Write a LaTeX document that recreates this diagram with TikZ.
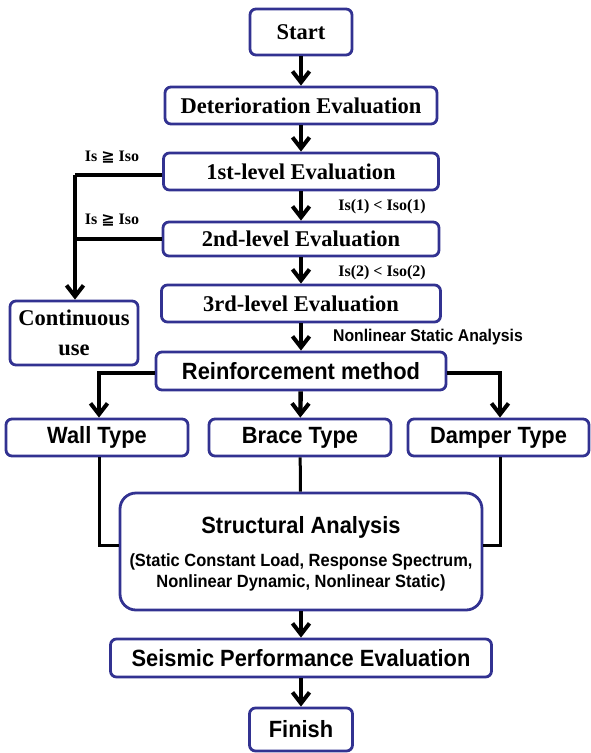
\documentclass[tikz,border=0pt]{standalone}
\usepackage{fontspec}
\setmainfont{Liberation Serif}
\setsansfont{Liberation Sans}[FakeStretch=0.93]
\newfontfamily\djv{DejaVu Sans}
\usetikzlibrary{arrows.meta}
\definecolor{boxblue}{RGB}{50,50,145}
\tikzset{
  box/.style={draw=boxblue, line width=2.8pt, rounded corners=6pt, fill=white, align=center, inner sep=0pt},
  serifbox/.style={box, font=\fontsize{22.5}{25}\selectfont\bfseries},
  sansbox/.style={box, font=\sffamily\fontsize{23.5}{26}\selectfont\bfseries},
  arr/.style={line width=4.4pt, -{Straight Barb[length=11pt,width=17pt,line width=4pt]}},
  conn/.style={line width=4pt},
  thin/.style={line width=3pt},
  lbl/.style={font=\fontsize{16}{18}\selectfont\bfseries, inner sep=0pt},
  slbl/.style={font=\sffamily\fontsize{17}{19}\selectfont\bfseries, inner sep=0pt},
}
\begin{document}
\begin{tikzpicture}[x=1pt,y=-1pt]
\useasboundingbox (0,0) rectangle (590,753);
\node[serifbox, minimum width=102pt, minimum height=46pt] (start) at (301,32) {Start};
\node[serifbox, minimum width=272pt, minimum height=37pt] (det) at (301,105.5) {Deterioration Evaluation};
\node[serifbox, minimum width=275pt, minimum height=37pt] (l1) at (301,171.5) {1st-level Evaluation};
\node[serifbox, minimum width=276pt, minimum height=34pt] (l2) at (301,239) {2nd-level Evaluation};
\node[serifbox, minimum width=279pt, minimum height=37pt] (l3) at (301,303.5) {3rd-level Evaluation};
\node[serifbox, minimum width=128pt, minimum height=64pt, font=\fontsize{22.5}{30}\selectfont\bfseries] (cont) at (74,333) {Continuous\\use};
\node[sansbox, minimum width=290pt, minimum height=38pt] (reinf) at (301,371) {Reinforcement method};
\node[sansbox, minimum width=182pt, minimum height=37pt] (wall) at (97,437.5) {Wall Type};
\node[sansbox, minimum width=182pt, minimum height=37pt] (brace) at (300,437.5) {Brace Type};
\node[sansbox, minimum width=181pt, minimum height=37pt] (damper) at (498.5,437.5) {Damper Type};
\node[box, rounded corners=16pt, minimum width=362pt, minimum height=117pt] (struct) at (301,551.5) {};
\node[font=\sffamily\fontsize{23.5}{26}\selectfont\bfseries, inner sep=0pt] (stitle) at (301,527) {Structural Analysis};
\node[font=\sffamily\fontsize{17.7}{21}\selectfont\bfseries, align=center, inner sep=0pt] (ssub) at (301,572.5) {(Static Constant Load, Response Spectrum,\\Nonlinear Dynamic, Nonlinear Static)};
\node[sansbox, minimum width=381pt, minimum height=38pt] (seis) at (301,658) {Seismic Performance Evaluation};
\node[sansbox, minimum width=103pt, minimum height=43pt] (fin) at (301,729.5) {Finish};

\draw[arr] (start) -- (det);
\draw[arr] (det) -- (l1);
\draw[arr] (l1) -- (l2);
\draw[arr] (l2) -- (l3);
\draw[arr] (l3) -- (reinf);
\draw[arr] (struct) -- (seis);
\draw[arr] (seis) -- (fin);

\coordinate (c1) at (75,175);
\coordinate (c2) at (75,239);
\draw[conn] (l1.west |- c1) -- (c1);
\draw[conn] (l2.west |- c2) -- (c2);
\draw[arr] (c1) -- (c1 |- cont.north);

\coordinate (rl) at (99,373);
\coordinate (rr) at (500,373);
\draw[arr] (reinf.west |- rl) -- (rl) -- (rl |- wall.north);
\draw[arr] (reinf.east |- rr) -- (rr) -- (rr |- damper.north);
\draw[arr] (reinf) -- (brace);

\coordinate (wl) at (99,545);
\coordinate (wr) at (500,545);
\draw[thin] (wl |- wall.south) -- (wl) -- (struct.west |- wl);
\draw[thin] (wr |- damper.south) -- (wr) -- (struct.east |- wr);
\draw[thin] (brace) -- (struct);

\node[lbl] (t1) at (112,157) {Is {\djv\bfseries ≧} Iso};
\node[lbl] (t2) at (112,220) {Is {\djv\bfseries ≧} Iso};
\node[lbl] (t3) at (382,207) {Is(1) < Iso(1)};
\node[lbl] (t4) at (382,273) {Is(2) < Iso(2)};
\node[slbl] (t5) at (428,337) {Nonlinear Static Analysis};
\end{tikzpicture}
\end{document}
